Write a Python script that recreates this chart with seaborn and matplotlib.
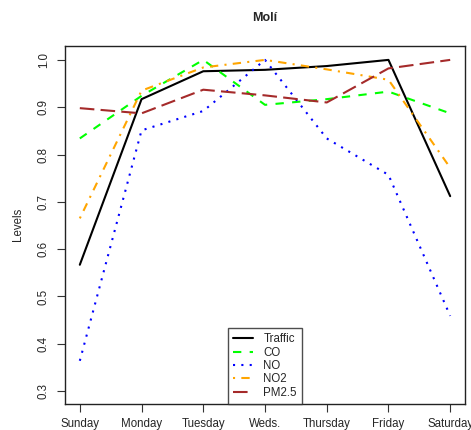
import numpy as np
import pandas as pd
import matplotlib
matplotlib.use("Agg")
import matplotlib.pyplot as plt
import seaborn as sns

days = ["Sunday", "Monday", "Tuesday", "Weds.", "Thursday", "Friday", "Saturday"]
traffic = [0.567, 0.917, 0.976, 0.979, 0.987, 1.000, 0.712]
co = [0.834, 0.924, 1.000, 0.905, 0.917, 0.933, 0.887]
no = [0.364, 0.851, 0.892, 1.000, 0.834, 0.757, 0.459]
no2 = [0.665, 0.935, 0.984, 1.000, 0.980, 0.958, 0.772]
pm25 = [0.898, 0.887, 0.937, 0.925, 0.910, 0.982, 1.000]

series_names = ["Traffic", "CO", "NO", "NO2", "PM2.5"]
series_vals = [traffic, co, no, no2, pm25]
colors = ["#000000", "#00FF00", "#0000FF", "#FFA500", "#A52A2A"]
dashes = [None, (0, (4, 4)), (0, (1, 3)), (0, (1, 3, 4, 3)), (0, (7, 3))]

sns.set_style("white")
plt.rcParams["font.family"] = ["Liberation Sans", "DejaVu Sans"]

fig = plt.figure(figsize=(4.71, 4.30), dpi=100)
ax = fig.add_axes([65 / 471, 26 / 430, 400 / 471, 358.3 / 430])

x = np.arange(len(days))
for name, vals, c, d in zip(series_names, series_vals, colors, dashes):
    df = pd.DataFrame({"x": x, "y": vals})
    sns.lineplot(data=df, x="x", y="y", ax=ax, color=c, linewidth=1.5, label=name)
    l = ax.get_lines()[-1]
    if d is not None:
        l.set_linestyle(d)

ax.set_xlim(-0.24, 6.24)
ax.set_ylim(0.2727, 1.030)
ax.set_xticks(x)
ax.set_xticklabels(days)
ax.set_yticks([0.3, 0.4, 0.5, 0.6, 0.7, 0.8, 0.9, 1.0])
ax.set_yticklabels(["0.3", "0.4", "0.5", "0.6", "0.7", "0.8", "0.9", "1.0"],
                   rotation=90, va="center")
ax.tick_params(axis="both", direction="out", length=6, width=0.8, color="#333333",
               labelsize=8.3, pad=5, bottom=True, left=True)
ax.tick_params(axis="x", pad=4)
for s in ax.spines.values():
    s.set_visible(True)
    s.set_color("#222222")
    s.set_linewidth(1.0)

ax.set_xlabel("")
ax.set_ylabel("Levels", fontsize=8.3, labelpad=10)
fig.text(265 / 471, 1 - 18 / 430, "Molí", ha="center", va="center",
         fontsize=9, fontweight="bold")

leg = ax.legend(loc="lower center", bbox_to_anchor=(0.5, 0.0), fontsize=8.3,
                frameon=True, fancybox=False, handlelength=1.75, handletextpad=0.85,
                borderpad=0.45, borderaxespad=0, labelspacing=0.12)
leg.get_frame().set_edgecolor("#222222")
leg.get_frame().set_linewidth(1.0)

fig.savefig("out.png", dpi=100)
